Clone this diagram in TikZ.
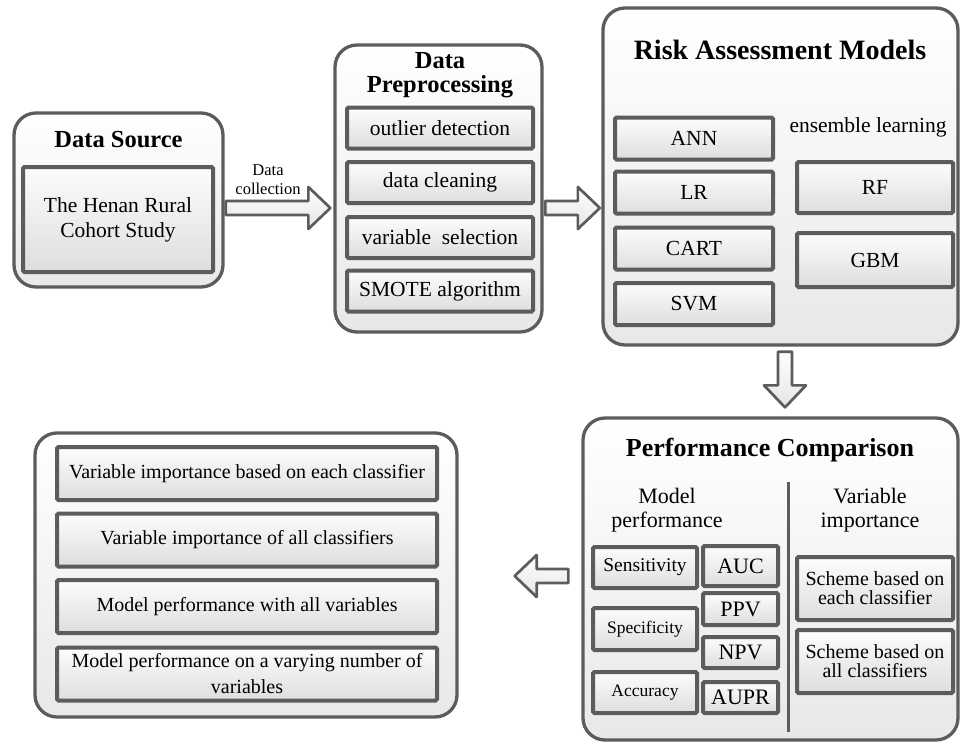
\documentclass[tikz,border=0pt]{standalone}
\usepackage{fontspec}
\setmainfont{Liberation Serif}
\usetikzlibrary{calc}

\definecolor{boxgray}{HTML}{5C5C5C}

% hollow block arrow: tail, tip, tail gap, tip gap
\newcommand{\fatarrow}[4]{%
  \coordinate (fa tail) at ($(#1)!#3!(#2)$);
  \coordinate (fa tip) at ($(#2)!#4!(#1)$);
  \coordinate (fa head) at ($(fa tip)!22pt!(fa tail)$);
  \draw[blockarrow] ($(fa tail)!7pt!90:(fa tip)$) -- ($(fa head)!7pt!90:(fa tip)$)
    -- ($(fa head)!21pt!90:(fa tip)$) -- (fa tip) -- ($(fa head)!21pt!-90:(fa tip)$)
    -- ($(fa head)!7pt!-90:(fa tip)$) -- ($(fa tail)!7pt!-90:(fa tip)$) -- cycle;
}

\begin{document}
\begin{tikzpicture}[x=1pt, y=-1pt,
    outerbox/.style={draw=boxgray, line width=3.3pt, rounded corners=22pt,
      top color=white, bottom color=black!9, inner sep=0pt},
    innerbox/.style={draw=boxgray, line width=4pt, rounded corners=1.5pt,
      top color=black!1, bottom color=black!13, inner sep=0pt, align=center,
      font=\fontsize{21.5}{25}\selectfont},
    titletext/.style={align=center, font=\bfseries\fontsize{24.5}{24}\selectfont},
    plaintext/.style={align=center, font=\fontsize{21.5}{24}\selectfont},
    blockarrow/.style={draw=boxgray, line width=2.7pt, line join=round,
      top color=white, bottom color=black!10}]
    \useasboundingbox (0,0) rectangle (962,744);

    % data source
    \node[outerbox, minimum width=209pt, minimum height=174pt] (src) at (118.5,200) {};
    \node[titletext] (srctitle) at (118.5,140) {Data Source};
    \node[innerbox, minimum width=190pt, minimum height=105pt] (cohort) at (118,219.5) {The Henan Rural\\Cohort Study};

    % data preprocessing
    \node[outerbox, minimum width=207pt, minimum height=287pt] (pre) at (438.5,188.5) {};
    \node[titletext] (pretitle) at (440,75) {Data\\Preprocessing};
    \node[innerbox, minimum width=186pt, minimum height=41pt] (outlier) at (440,128) {outlier detection};
    \node[innerbox, minimum width=186pt, minimum height=41pt] (cleaning) at (440,182.5) {data cleaning};
    \node[innerbox, minimum width=186pt, minimum height=41pt] (varsel) at (440,237.5) {variable~ selection};
    \node[innerbox, minimum width=186pt, minimum height=41pt] (smote) at (440,291) {SMOTE algorithm};

    % risk assessment models
    \node[outerbox, minimum width=355pt, minimum height=337pt] (risk) at (780.5,176.5) {};
    \node[titletext, font=\bfseries\fontsize{28}{28}\selectfont] (risktitle) at (780,50) {Risk Assessment Models};
    \node[innerbox, minimum width=158pt, minimum height=42pt] (ann) at (694,138.5) {ANN};
    \node[innerbox, minimum width=158pt, minimum height=42pt] (lr) at (694,192.5) {LR};
    \node[innerbox, minimum width=158pt, minimum height=42pt] (cart) at (694,248.5) {CART};
    \node[innerbox, minimum width=158pt, minimum height=42pt] (svm) at (694,304) {SVM};
    \node[plaintext] (ensemble) at (868,127) {ensemble learning};
    \node[innerbox, minimum width=156pt, minimum height=51pt] (rf) at (875,187.5) {RF};
    \node[innerbox, minimum width=156pt, minimum height=54pt] (gbm) at (875,260) {GBM};

    % performance comparison
    \node[outerbox, minimum width=375pt, minimum height=322pt] (perf) at (770.5,579) {};
    \node[titletext, font=\bfseries\fontsize{26}{26}\selectfont] (perftitle) at (770,450) {Performance Comparison};
    \draw[boxgray, line width=3pt] (788,482) -- (788,732);
    \node[plaintext, font=\fontsize{22}{24}\selectfont] (modperf) at (667,510) {Model\\performance};
    \node[plaintext, font=\fontsize{22}{24}\selectfont] (varimp) at (870,510) {Variable\\importance};
    \node[innerbox, minimum width=104pt, minimum height=41pt, font=\fontsize{19.5}{22}\selectfont] (sens) at (645,567.5) {Sensitivity};
    \node[innerbox, minimum width=104pt, minimum height=42pt, font=\fontsize{17.5}{20}\selectfont] (spec) at (645,629) {Specificity};
    \node[innerbox, minimum width=104pt, minimum height=41pt, font=\fontsize{17.5}{20}\selectfont] (acc) at (645,692.5) {Accuracy};
    \node[innerbox, minimum width=75pt, minimum height=40pt, font=\fontsize{22}{24}\selectfont] (auc) at (740.5,566) {AUC};
    \node[innerbox, minimum width=75pt, minimum height=32pt, font=\fontsize{22}{24}\selectfont] (ppv) at (740.5,609) {PPV};
    \node[innerbox, minimum width=75pt, minimum height=31pt, font=\fontsize{22}{24}\selectfont] (npv) at (740.5,652.5) {NPV};
    \node[innerbox, minimum width=75pt, minimum height=31pt, font=\fontsize{22}{24}\selectfont] (aupr) at (740.5,697.5) {AUPR};
    \node[innerbox, minimum width=156pt, minimum height=63pt, font=\fontsize{20}{19}\selectfont] (eachcls) at (875,588.5) {Scheme based on\\each classifier};
    \node[innerbox, minimum width=156pt, minimum height=63pt, font=\fontsize{20}{19}\selectfont] (allcls) at (875,661.5) {Scheme based on\\all classifiers};

    % results
    \node[outerbox, minimum width=422pt, minimum height=284pt] (res) at (246,575) {};
    \node[innerbox, minimum width=380pt, minimum height=53pt, font=\fontsize{20}{26}\selectfont] (res1) at (247,473.5) {Variable importance based on each classifier};
    \node[innerbox, minimum width=380pt, minimum height=53pt, font=\fontsize{20}{26}\selectfont] (res2) at (247,540) {Variable importance of all classifiers};
    \node[innerbox, minimum width=380pt, minimum height=53pt, font=\fontsize{20}{26}\selectfont] (res3) at (247,606.5) {Model performance with all variables};
    \node[innerbox, minimum width=380pt, minimum height=53pt, font=\fontsize{20}{26}\selectfont] (res4) at (247,674) {Model performance on a varying number of\\variables};

    % flow arrows
    \node[plaintext, font=\fontsize{16.5}{19}\selectfont] (collect) at (268,180) {Data\\collection};
    \fatarrow{src.east |- 0,208}{pre.west |- 0,208}{1pt}{3pt}
    \fatarrow{pre.east |- 0,208}{risk.west |- 0,208}{1.5pt}{1.5pt}
    \fatarrow{risk.south -| 785,0}{perf.north -| 785,0}{5pt}{9pt}
    \fatarrow{perf.west |- 0,576}{res.east |- 0,576}{13pt}{56pt}
\end{tikzpicture}
\end{document}
